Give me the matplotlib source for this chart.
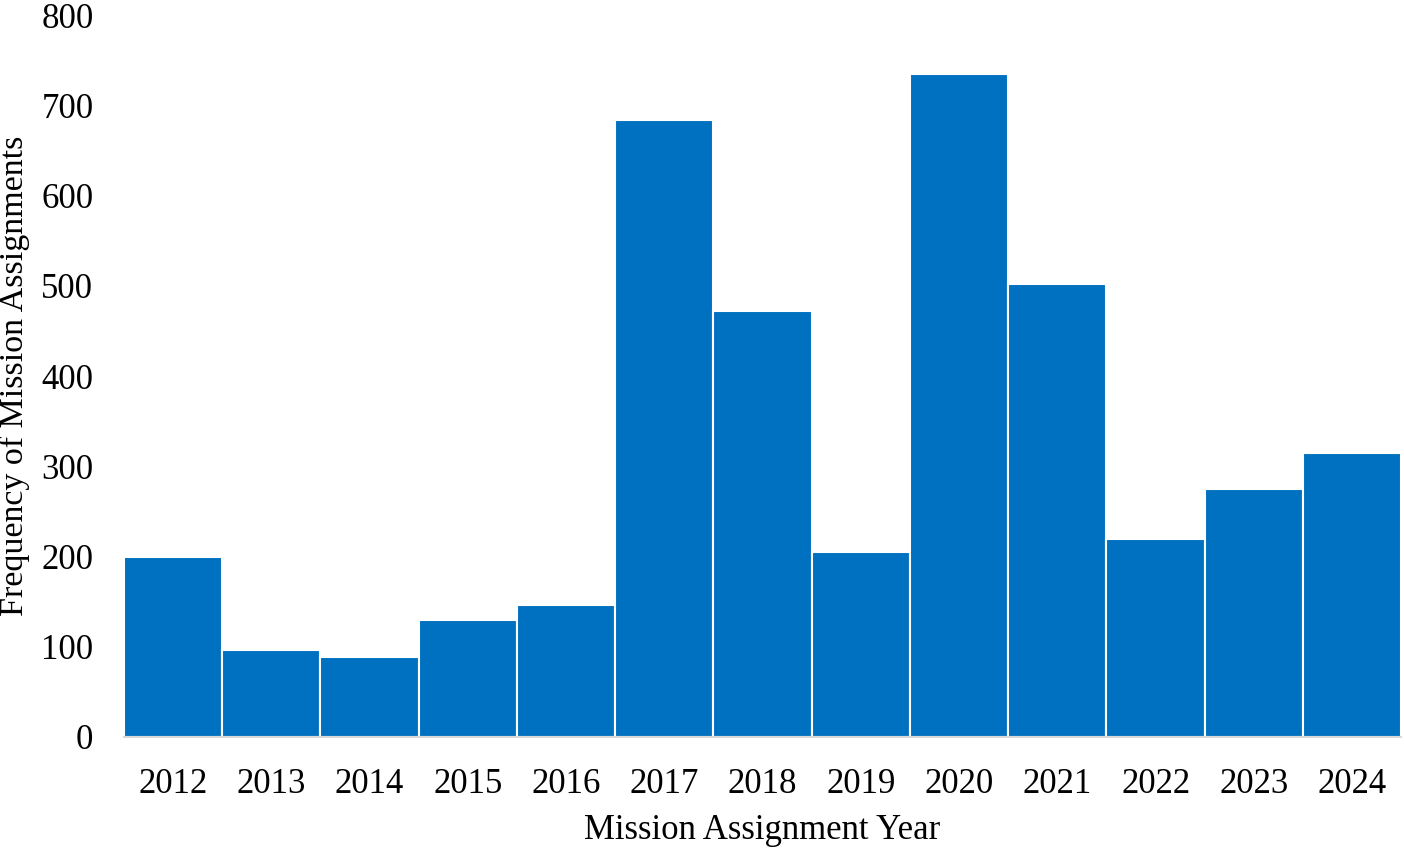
import matplotlib.pyplot as plt

years = ['2012', '2013', '2014', '2015', '2016', '2017', '2018',
         '2019', '2020', '2021', '2022', '2023', '2024']
counts = [200, 96, 89, 130, 146, 684, 472, 205, 735, 502, 219, 275, 315]

plt.rcParams['font.family'] = ['Liberation Serif', 'DejaVu Serif']

fig = plt.figure(figsize=(14.04, 8.48), dpi=100)
ax = fig.add_axes([0.0883, 0.1309, 0.9097, 0.8514])

x = range(len(years))
ax.bar(x, counts, width=1.0, color='#0070C0', edgecolor='white', linewidth=1.5)

ax.set_xlim(-0.5, len(years) - 0.5)
ax.set_ylim(0, 800)
ax.set_yticks(range(0, 801, 100))
ax.set_xticks(list(x))
ax.set_xticklabels(years)
ax.tick_params(axis='both', length=0, labelsize=25)
ax.tick_params(axis='x', pad=22)
ax.tick_params(axis='y', pad=22)

for s in ['top', 'right', 'left']:
    ax.spines[s].set_visible(False)
ax.spines['bottom'].set_color('#D9D9D9')
ax.spines['bottom'].set_linewidth(1.5)

ax.set_xlabel('Mission Assignment Year', fontsize=25)
ax.set_ylabel('Frequency of Mission Assignments', fontsize=24.5)
ax.xaxis.set_label_coords(0.5, -0.106)
ax.yaxis.set_label_coords(-0.0733, 0.5)

fig.savefig('out.png', dpi=100)
